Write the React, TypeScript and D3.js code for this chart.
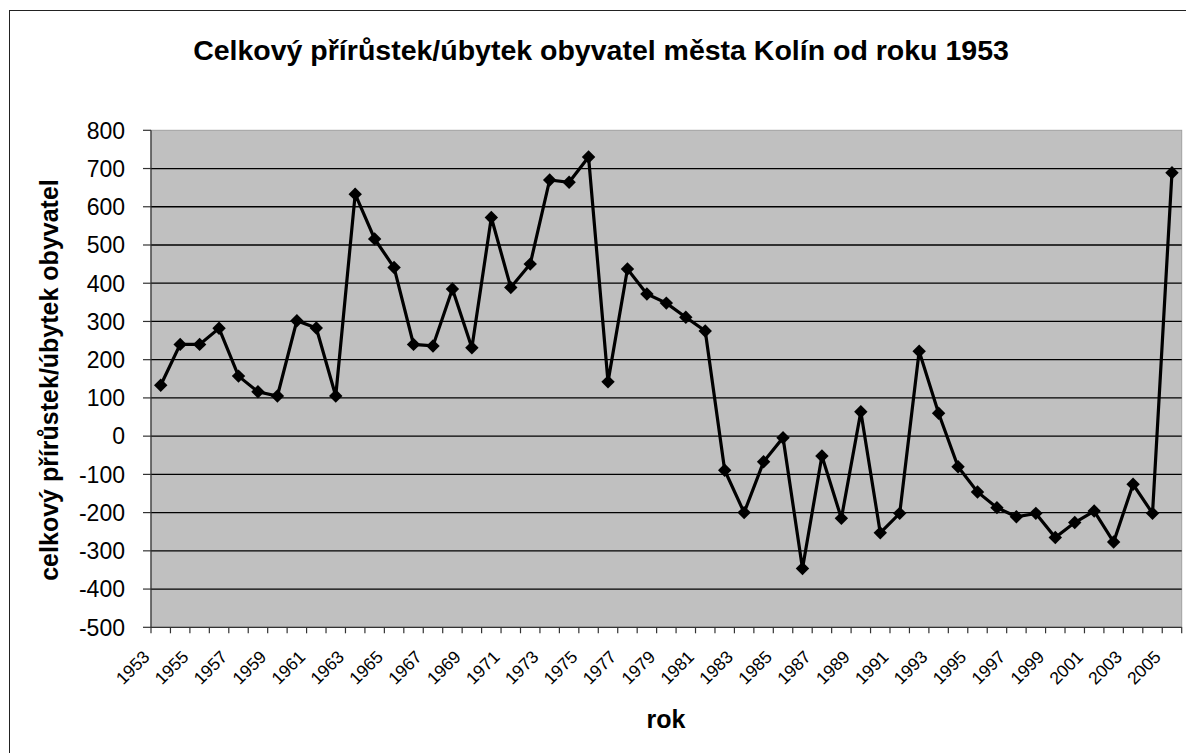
import React from "react";
import * as d3 from "d3";

const years: number[] = [
  1953, 1954, 1955, 1956, 1957, 1958, 1959, 1960, 1961, 1962,
  1963, 1964, 1965, 1966, 1967, 1968, 1969, 1970, 1971, 1972,
  1973, 1974, 1975, 1976, 1977, 1978, 1979, 1980, 1981, 1982,
  1983, 1984, 1985, 1986, 1987, 1988, 1989, 1990, 1991, 1992,
  1993, 1994, 1995, 1996, 1997, 1998, 1999, 2000, 2001, 2002,
  2003, 2004, 2005,
];

const values: number[] = [
  133, 240, 240, 282, 157, 116, 105, 302, 283, 105,
  633, 516, 441, 240, 236, 385, 231, 572, 389, 450,
  670, 664, 730, 142, 437, 372, 348, 311, 275, -89,
  -200, -67, -4, -346, -52, -215, 64, -253, -202, 222,
  60, -80, -146, -187, -211, -202, -265, -226, -196, -277,
  -126, -202, 689,
];

const yTicks: number[] = [800, 700, 600, 500, 400, 300, 200, 100, 0, -100, -200, -300, -400, -500];

const title = "Celkový přírůstek/úbytek obyvatel města Kolín od roku 1953";
const yTitle = "celkový přírůstek/úbytek obyvatel";
const xTitle = "rok";

const W = 1186;
const H = 753;
const plotLeft = 151;
const plotRight = 1181.7;
const plotTop = 130.3;
const plotBottom = 627.3;
const font = "Arial, 'Liberation Sans', Helvetica, sans-serif";

export default function App() {
  const x = d3
    .scaleBand<number>()
    .domain(years)
    .range([plotLeft, plotRight])
    .paddingInner(0)
    .paddingOuter(0);
  const y = d3.scaleLinear().domain([-500, 800]).range([plotBottom, plotTop]);
  const cx = (yr: number) => (x(yr) as number) + x.bandwidth() / 2;

  const data = years.map((yr, i) => ({ yr, v: values[i] }));
  const line = d3
    .line<{ yr: number; v: number }>()
    .x((d) => cx(d.yr))
    .y((d) => y(d.v));
  const diamond = d3.symbol().type(d3.symbolDiamond2).size(115)();

  const boundaries = years.map((yr) => x(yr) as number).concat([plotRight]);

  return (
    <svg
      width={W}
      height={H}
      style={{ position: "absolute", left: 0, top: 0, background: "#fff" }}
      fontFamily={font}
    >
      <rect x={9.5} y={10.5} width={1200} height={800} fill="#fff" stroke="#222" strokeWidth={1} />
      <text x={601} y={60} textAnchor="middle" fontSize={28.5} fontWeight="bold" fill="#000">
        {title}
      </text>

      <rect
        x={plotLeft}
        y={plotTop}
        width={plotRight - plotLeft}
        height={plotBottom - plotTop}
        fill="#c0c0c0"
        stroke="#a0a0a0"
        strokeWidth={1}
      />
      {yTicks
        .filter((t) => t !== 800 && t !== -500)
        .map((t) => (
          <line key={"g" + t} x1={plotLeft} x2={plotRight} y1={y(t)} y2={y(t)} stroke="#000" strokeWidth={1.3} />
        ))}
      {/* y axis */}
      <line x1={plotLeft} x2={plotLeft} y1={plotTop} y2={plotBottom} stroke="#333" strokeWidth={1.2} />
      {yTicks.map((t) => (
        <g key={"yt" + t}>
          <line x1={plotLeft - 8} x2={plotLeft} y1={y(t)} y2={y(t)} stroke="#333" strokeWidth={1.2} />
          <text x={125} y={y(t)} dy="0.36em" textAnchor="end" fontSize={23} fill="#000">
            {t}
          </text>
        </g>
      ))}
      {/* x axis */}
      <line x1={plotLeft} x2={plotRight} y1={plotBottom} y2={plotBottom} stroke="#333" strokeWidth={1.2} />
      {boundaries.map((bx, i) => (
        <line key={"xt" + i} x1={bx} x2={bx} y1={plotBottom} y2={plotBottom + 6} stroke="#333" strokeWidth={1.2} />
      ))}
      {years
        .filter((_, i) => i % 2 === 0)
        .map((yr) => {
          const ax = cx(yr) - 10;
          const ay = 658;
          return (
            <text
              key={"xl" + yr}
              x={ax}
              y={ay}
              textAnchor="end"
              fontSize={17.5}
              fill="#000"
              transform={`rotate(-45 ${ax} ${ay})`}
            >
              {yr}
            </text>
          );
        })}

      <path d={line(data) ?? ""} fill="none" stroke="#000" strokeWidth={3.2} strokeLinejoin="miter" />
      {data.map((d) => (
        <path key={"m" + d.yr} d={diamond ?? ""} transform={`translate(${cx(d.yr)},${y(d.v)})`} fill="#000" />
      ))}

      <text x={666} y={728} textAnchor="middle" fontSize={25} fontWeight="bold" fill="#000">
        {xTitle}
      </text>
      <text
        x={0}
        y={0}
        textAnchor="middle"
        fontSize={25}
        fontWeight="bold"
        fill="#000"
        transform={`translate(58 380) rotate(-90)`}
      >
        {yTitle}
      </text>
    </svg>
  );
}
